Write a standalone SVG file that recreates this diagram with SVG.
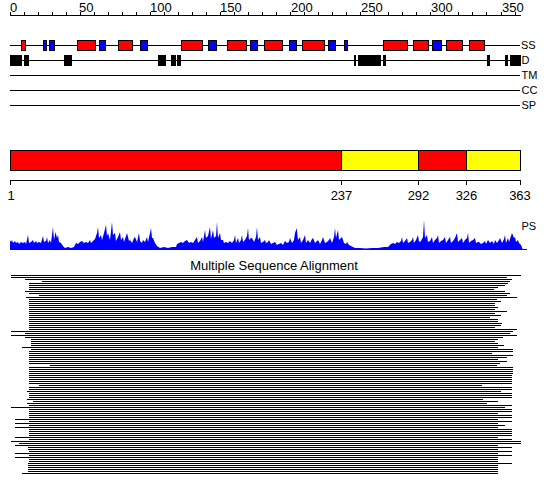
<svg xmlns="http://www.w3.org/2000/svg" width="550" height="495" viewBox="0 0 550 495">
<style>
text{font-family:"Liberation Sans",Arial,sans-serif;fill:#000}
.num{font-size:13px}
.lab{font-size:11px}
.ax{stroke:#000;stroke-width:1;fill:none}
.h{fill:#ff0000;stroke:#000;stroke-width:1}
.e{fill:#0000ff;stroke:#000;stroke-width:1}
.y{fill:#ffff00;stroke:#000;stroke-width:1}
.r{fill:#ff0000;stroke:#000;stroke-width:1}
.d{fill:#000}
</style>
<rect width="550" height="495" fill="#fff"/>
<g id="top-ruler">
<path class="ax" d="M10 15.5H521"/>
<path class="ax" d="M10.5 12V15M24.5 12V15M38.5 12V15M52.5 12V15M66.5 12V15M80.5 12V15M94.5 12V15M108.5 12V15M122.5 12V15M136.5 12V15M150.5 12V15M164.5 12V15M178.5 12V15M192.5 12V15M206.5 12V15M220.5 12V15M234.5 12V15M248.5 12V15M262.5 12V15M276.5 12V15M290.5 12V15M304.5 12V15M318.5 12V15M332.5 12V15M346.5 12V15M360.5 12V15M374.5 12V15M388.5 12V15M402.5 12V15M416.5 12V15M430.5 12V15M444.5 12V15M458.5 12V15M472.5 12V15M486.5 12V15M501.5 12V15M515.5 12V15"/>
<text class="num" x="10" y="12">0</text>
<text class="num" x="79" y="12">50</text>
<text class="num" x="150" y="12">100</text>
<text class="num" x="220" y="12">150</text>
<text class="num" x="291" y="12">200</text>
<text class="num" x="361" y="12">250</text>
<text class="num" x="431" y="12">300</text>
<text class="num" x="502" y="12">350</text>
</g>
<g id="SS">
<path class="ax" d="M10 45.5H520"/>
<rect class="h" x="21.5" y="40.5" width="4" height="10"/>
<rect class="e" x="43.5" y="40.5" width="3" height="10"/>
<rect class="e" x="49.5" y="40.5" width="5" height="10"/>
<rect class="h" x="77.5" y="40.5" width="18" height="10"/>
<rect class="e" x="99.5" y="40.5" width="6" height="10"/>
<rect class="h" x="118.5" y="40.5" width="14" height="10"/>
<rect class="e" x="140.5" y="40.5" width="7" height="10"/>
<rect class="h" x="181.5" y="40.5" width="21" height="10"/>
<rect class="e" x="208.5" y="40.5" width="8" height="10"/>
<rect class="h" x="227.5" y="40.5" width="19" height="10"/>
<rect class="e" x="250.5" y="40.5" width="7" height="10"/>
<rect class="h" x="264.5" y="40.5" width="18" height="10"/>
<rect class="e" x="289.5" y="40.5" width="7" height="10"/>
<rect class="h" x="302.5" y="40.5" width="22" height="10"/>
<rect class="e" x="328.5" y="40.5" width="7" height="10"/>
<rect class="e" x="344.5" y="40.5" width="3" height="10"/>
<rect class="h" x="383.5" y="40.5" width="24" height="10"/>
<rect class="h" x="413.5" y="40.5" width="15" height="10"/>
<rect class="e" x="432.5" y="40.5" width="9" height="10"/>
<rect class="h" x="446.5" y="40.5" width="16" height="10"/>
<rect class="h" x="469.5" y="40.5" width="15" height="10"/>
<text class="lab" x="521" y="49">SS</text>
</g>
<g id="D">
<path class="ax" d="M10 60.5H520"/>
<rect class="d" x="10" y="55" width="12" height="11"/>
<rect class="d" x="24" y="55" width="5" height="11"/>
<rect class="d" x="64" y="55" width="8" height="11"/>
<rect class="d" x="158" y="55" width="8" height="11"/>
<rect class="d" x="171" y="55" width="5" height="11"/>
<rect class="d" x="177" y="55" width="4" height="11"/>
<rect class="d" x="354" y="55" width="2" height="11"/>
<rect class="d" x="358" y="55" width="23" height="11"/>
<rect class="d" x="383" y="55" width="3" height="11"/>
<rect class="d" x="487" y="55" width="3" height="11"/>
<rect class="d" x="505" y="55" width="3" height="11"/>
<rect class="d" x="510" y="55" width="11" height="11"/>
<text class="lab" x="521.5" y="64">D</text>
</g>
<g id="TM">
<path class="ax" d="M10 75.5H520"/>
<text class="lab" x="521.5" y="79">TM</text>
</g>
<g id="CC">
<path class="ax" d="M10 90.5H520"/>
<text class="lab" x="521.5" y="94">CC</text>
</g>
<g id="SP">
<path class="ax" d="M10 105.5H520"/>
<text class="lab" x="521.5" y="109">SP</text>
</g>
<g id="domains">
<rect class="r" x="10.5" y="150.5" width="331" height="20"/>
<rect class="y" x="341.5" y="150.5" width="77" height="20"/>
<rect class="r" x="418.5" y="150.5" width="48" height="20"/>
<rect class="y" x="466.5" y="150.5" width="54" height="20"/>
</g>
<g id="bottom-ruler">
<path class="ax" d="M10 180.5H521M10.5 180V185M341.5 180V185M418.5 180V185M466.5 180V185M520.5 180V185"/>
<text class="num" x="11" y="200" text-anchor="middle">1</text>
<text class="num" x="341.5" y="200" text-anchor="middle">237</text>
<text class="num" x="418.5" y="200" text-anchor="middle">292</text>
<text class="num" x="466.5" y="200" text-anchor="middle">326</text>
<text class="num" x="520" y="200" text-anchor="middle">363</text>
</g>
<g id="PS">
<polygon fill="#0000ff" points="10,250 10,240 11,242 12,240 13,243 15,241 16,243 18,242 19,244 21,242 23,243 25,242 26,244 28,235 29,243 31,242 33,240 34,243 36,241 37,243 39,242 41,243 43,236 44,242 46,241 47,237 48,243 50,240 51,243 53,227 54,240 55.5,232 57,238 58,235 59,242 61,243 63,246 65,248 68,247 71,248 74,247 76,243 78,244 80,242 82,241 84,243 86,242 88,243 90,240 91,243 93,241 95,239 97,233 98,227 99,238 101,235 102,240 104,233 106,225 107,236 108,233 110,240 112,222 113,235 115,233 116,241 118,237 120,232 121,240 123,237 124,242 126,236 127,233 129,241 130,240 132,243 134,238 135,237 137,242 139,233 140,241 142,243 143,240 145,242 147,237 148,242 150,233 151,228 152,238 153,238 155,243 157,246 160,248 164,247 168,248 172,247 176,247 177,244 179,243 181,242 183,243 185,241 187,240 189,243 191,242 193,243 195,240 197,237 198,243 200,241 202,237 203,242 205,230 206,238 208,236 210,227 211,239 213,230 214,238 216,236 217,222 218,238 220,233 221,240 223,240 224,243 226,242 228,243 230,241 232,243 234,240 235,235 236,243 238,238 239,243 241,240 242,235 243,242 245,240 247,236 248,228 249,240 251,238 252,238 254,242 256,237 257,227 258,240 260,237 261,243 263,242 265,240 266,243 268,242 269,240 271,244 273,243 275,242 277,245 279,244 281,243 283,245 285,241 287,243 289,242 290,238 292,243 294,240 295,233 296.7,228 298,240 300,237 301,243 303,240 305,235 306,243 308,240 310,243 312,239 313,238 315,243 317,241 318,240 320,244 322,240 323,237 325,243 327,242 329,240 330,238 332,243 334,237 335,228 336,238 338,230 339,240 341,238 342,237 344,243 346,244 347,242 349,245 351,246 353,247 355,248 360,248 366,248.5 372,248 378,248 384,247 388,247 391,244 393,243 395,244 397,242 399,243 401,241 402,237 403,243 405,241 407,238 408,243 410,242 412,240 413,237 414,243 416,240 418,235 419,242 421,241 423,237 424,220 425,238 427,235 428,242 430,241 432,237 433,243 435,240 437,238 438,235 439,243 441,241 443,240 445,237 446,243 448,240 450,237 451,243 453,241 455,238 457,233 458,242 460,240 462,238 463,243 465,240 467,238 468,233 469,243 471,241 473,240 475,238 476,243 478,242 479,242 481,244 483,243 485,241 486,244 488,240 490,243 492,241 494,244 495,240 497,243 499,240 500,238 502,243 504,239 505,235 506,243 508,238 509,242 511,236 512,233 514,238 515,237 516,242 518,240 519,243 521,245 523,250"/>
<path d="M10 249.5H527" stroke="#0000ff" stroke-width="1"/>
<text class="lab" x="521.5" y="230">PS</text>
</g>
<g id="MSA">
<text x="274" y="270" font-size="13" text-anchor="middle">Multiple Sequence Alignment</text>
<path stroke="#000" stroke-width="1" fill="none" d="M11 275.5H521M11 277.5H507M25 279.5H512M42 281.5H510M29 283.5H508M29 285.5H505M29 287.5H498M29 289.5H494M25 291.5H505M29 293.5H510M39 295.5H507M26 297.5H517M29 299.5H497M29 301.5H501M29 303.5H495M29 305.5H495M29 307.5H498M29 309.5H495M29 311.5H507M29 313.5H495M29 315.5H501M29 317.5H490M29 319.5H498M29 321.5H498M29 323.5H502M29 325.5H501M29 327.5H495M29 329.5H517M11 331.5H513M25 333.5H510M11 335.5H517M25 337.5H503M31 339.5H498M31 341.5H495M31 343.5H498M31 345.5H504M22 347.5H498M31 349.5H513M29 351.5H513M29 353.5H492M29 355.5H513M29 357.5H507M29 359.5H498M29 361.5H507M29 363.5H500M50 365.5H497M29 367.5H513M29 369.5H513M29 371.5H513M29 373.5H513M29 375.5H512M29 377.5H512M29 379.5H512M29 381.5H512M29 383.5H512M39 385.5H482M29 387.5H512M29 389.5H512M27 391.5H501M29 393.5H512M29 395.5H512M29 397.5H512M27 399.5H483M33 401.5H498M27 403.5H487M29 405.5H512M11 407.5H505M29 409.5H512M29 411.5H512M29 413.5H498M29 415.5H512M29 417.5H512M15 419.5H498M29 421.5H512M15 423.5H498M29 425.5H505M15 427.5H498M29 429.5H512M29 431.5H512M29 433.5H512M29 435.5H512M15 437.5H498M29 439.5H512M11 441.5H521M19 443.5H521M15 445.5H498M28 447.5H512M28 449.5H498M29 451.5H512M15 453.5H498M29 455.5H512M15 457.5H498M29 459.5H498M29 461.5H498M28 463.5H512M28 465.5H498M28 467.5H498M28 469.5H498M28 471.5H498M22 473.5H498"/>
</g>
</svg>
